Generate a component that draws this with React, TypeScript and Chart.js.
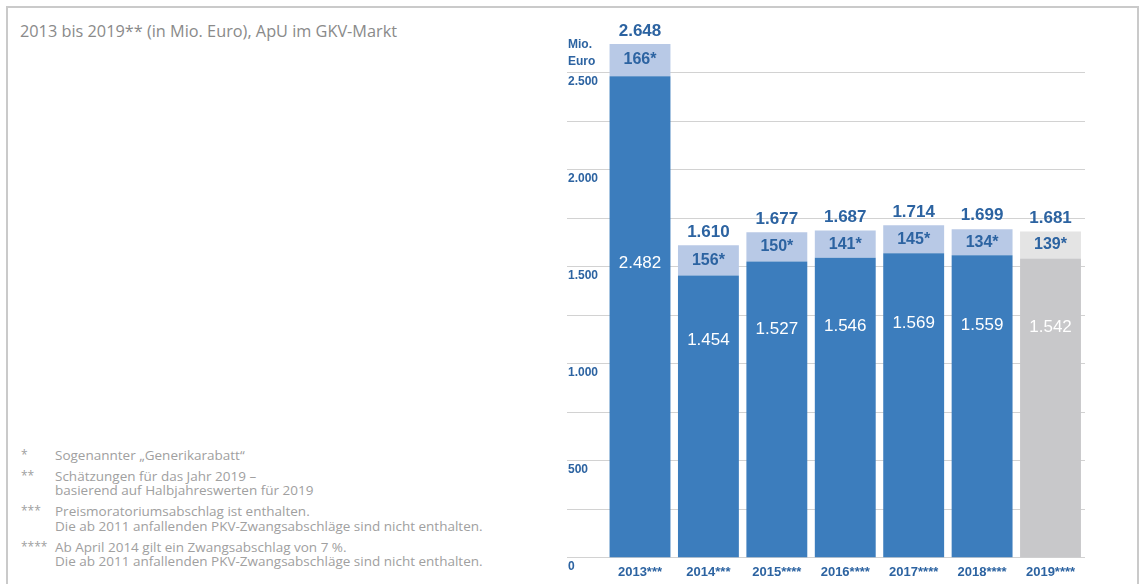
import React, { useEffect, useRef } from "react";
import { Chart, registerables } from "chart.js";

Chart.register(...registerables);

// ---------- data ----------
const yearLabels = ["2013***", "2014***", "2015****", "2016****", "2017****", "2018****", "2019****"];
const baseValues = [2482, 1454, 1527, 1546, 1569, 1559, 1542];
const rabattValues = [166, 156, 150, 141, 145, 134, 139];
const totalValues = [2648, 1610, 1677, 1687, 1714, 1699, 1681];
const estimatedFlags = [false, false, false, false, false, false, true];
const yLabelValues = [0, 500, 1000, 1500, 2000, 2500];
const yUnitLines = ["Mio.", "Euro"];
const titleText = "2013 bis 2019** (in Mio. Euro), ApU im GKV-Markt";
const footnoteMarks = ["*", "**", "***", "****"];
const footnoteLines = [
  ["Sogenannter „Generikarabatt“"],
  ["Schätzungen für das Jahr 2019 –", "basierend auf Halbjahreswerten für 2019"],
  ["Preismoratoriumsabschlag ist enthalten.", "Die ab 2011 anfallenden PKV-Zwangsabschläge sind nicht enthalten."],
  ["Ab April 2014 gilt ein Zwangsabschlag von 7 %.", "Die ab 2011 anfallenden PKV-Zwangsabschläge sind nicht enthalten."],
];

// ---------- styles ----------
const DARK_BLUE = "#3c7dbd";
const LIGHT_BLUE = "#b8c9e6";
const DARK_GRAY = "#c8c8ca";
const LIGHT_GRAY = "#e4e4e4";
const TEXT_BLUE = "#2c63a1";
const NUM_FONT = "'Liberation Sans', Arial, Helvetica, sans-serif";

const fmt = (n: number) => String(n).replace(/\B(?=(\d{3})+(?!\d))/g, ".");

const labelPlugin = {
  id: "barLabels",
  afterDatasetsDraw(chart: any) {
    const ctx = chart.ctx;
    const xs = chart.scales.x;
    const ys = chart.scales.y;
    ctx.save();
    ctx.textAlign = "center";
    ctx.textBaseline = "middle";
    for (let i = 0; i < totalValues.length; i++) {
      const x = xs.getPixelForValue(i);
      const base = baseValues[i];
      const total = totalValues[i];
      // total above bar
      ctx.fillStyle = TEXT_BLUE;
      ctx.font = `bold 17px ${NUM_FONT}`;
      ctx.fillText(fmt(total), x, ys.getPixelForValue(total) - 13);
      // rabatt inside light part
      ctx.font = `bold 16px ${NUM_FONT}`;
      ctx.fillText(fmt(rabattValues[i]) + "*", x, ys.getPixelForValue(base + rabattValues[i] / 2));
      // base value inside dark part
      ctx.fillStyle = "#ffffff";
      ctx.font = `17px ${NUM_FONT}`;
      ctx.fillText(fmt(base), x, ys.getPixelForValue(Math.min(base * 0.77, 1520)));
    }
    // unit label
    ctx.textAlign = "left";
    ctx.fillStyle = TEXT_BLUE;
    ctx.font = `bold 12px ${NUM_FONT}`;
    const yTop = ys.getPixelForValue(2500);
    ctx.fillText(yUnitLines[0], chart.chartArea.left + 1, yTop - 28);
    ctx.fillText(yUnitLines[1], chart.chartArea.left + 1, yTop - 11);
    ctx.restore();
  },
};

function BarChart() {
  const ref = useRef<HTMLCanvasElement | null>(null);
  useEffect(() => {
    if (!ref.current) return;
    const chart = new Chart(ref.current, {
      type: "bar",
      data: {
        datasets: [
          {
            label: "ApU",
            data: baseValues.map((v, i) => ({ x: i, y: v })),
            backgroundColor: estimatedFlags.map((e) => (e ? DARK_GRAY : DARK_BLUE)),
            borderWidth: 0,
            barPercentage: 0.89,
            categoryPercentage: 1,
            clip: false as any,
          },
          {
            label: "Generikarabatt",
            data: rabattValues.map((v, i) => ({ x: i, y: v })),
            backgroundColor: estimatedFlags.map((e) => (e ? LIGHT_GRAY : LIGHT_BLUE)),
            borderWidth: 0,
            barPercentage: 0.89,
            categoryPercentage: 1,
            clip: false as any,
          },
        ],
      },
      options: {
        responsive: false,
        animation: false,
        devicePixelRatio: 1,
        layout: { padding: { left: 567, right: 59, top: 24.2, bottom: 0 } },
        plugins: { legend: { display: false }, tooltip: { enabled: false } },
        scales: {
          x: {
            type: "linear",
            stacked: true,
            offset: false,
            min: -1.067,
            max: 6.504,
            grid: { display: false, drawTicks: false, offset: false },
            border: { display: false },
            afterBuildTicks: (axis: any) => {
              axis.ticks = yearLabels.map((_, i) => ({ value: i }));
            },
            afterFit: (axis: any) => {
              axis.height = 26.3;
            },
            ticks: {
              padding: 7,
              color: TEXT_BLUE,
              font: { family: NUM_FONT, size: 13, weight: "bold" },
              autoSkip: false,
              maxRotation: 0,
              callback: (v: any) => yearLabels[v] ?? "",
            },
          },
          y: {
            type: "linear",
            stacked: true,
            min: 0,
            max: 2750,
            grid: {
              drawTicks: false,
              color: (c: any) => (c.tick && c.tick.value > 2500 ? "rgba(0,0,0,0)" : "#d2d2d2"),
              lineWidth: 1,
            },
            border: { display: false },
            afterFit: (axis: any) => {
              axis.width = 0;
            },
            ticks: {
              stepSize: 250,
              mirror: true,
              padding: 1,
              labelOffset: 9,
              color: TEXT_BLUE,
              font: { family: NUM_FONT, size: 12, weight: "bold" },
              callback: (v: any) => (yLabelValues.includes(Number(v)) ? fmt(Number(v)) : ""),
            },
          },
        },
      },
      plugins: [labelPlugin],
    });
    return () => chart.destroy();
  }, []);
  return <canvas ref={ref} width={1144} height={584} style={{ position: "absolute", left: 0, top: 0 }} />;
}

export default function App() {
  return (
    <div
      style={{
        position: "fixed",
        left: 0,
        top: 0,
        width: 1144,
        height: 584,
        overflow: "hidden",
        background: "#ffffff",
        fontFamily: "'Open Sans', 'Noto Sans', sans-serif",
      }}
    >
      <div
        style={{
          position: "absolute",
          left: 6,
          top: 6,
          width: 1133,
          height: 700,
          border: "2px solid #cacaca",
          boxSizing: "border-box",
        }}
      />
      <div
        style={{
          position: "absolute",
          left: 20,
          top: 20,
          fontSize: 16.3,
          lineHeight: "22px",
          color: "#8a8a8a",
          whiteSpace: "nowrap",
        }}
      >
        {titleText}
      </div>
      <div style={{ position: "absolute", left: 21, top: 447.75, color: "#a0a0a0", fontSize: 13.5 }}>
        {footnoteMarks.map((m, i) => (
          <div key={i} style={{ position: "relative", marginBottom: 6.5 }}>
            <span style={{ position: "absolute", left: 0, top: 0, lineHeight: "14.5px", fontSize: 12 }}>{m}</span>
            {footnoteLines[i].map((l, j) => (
              <div key={j} style={{ paddingLeft: 34, lineHeight: "14.5px", whiteSpace: "nowrap" }}>
                {l}
              </div>
            ))}
          </div>
        ))}
      </div>
      <BarChart />
    </div>
  );
}
